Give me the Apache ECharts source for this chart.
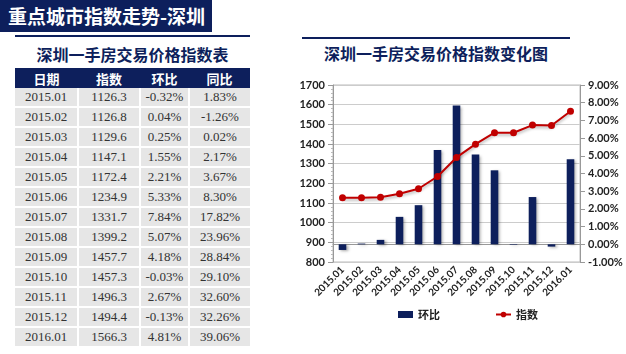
<!DOCTYPE html>
<html>
<head>
<meta charset="utf-8">
<script src="https://cdn.jsdelivr.net/npm/echarts@6/dist/echarts.min.js"></script>
<style>
  body { margin:0; width:626px; height:354px; background:#fff; position:relative; overflow:hidden;
         font-family:"Noto Sans CJK SC", sans-serif; }
  #banner { position:absolute; left:0; top:0; width:212px; height:32px; background:#0d1f5c; color:#fff;
            font-size:19px; font-weight:bold; line-height:32px; padding-left:8px; box-sizing:border-box; }
  .rule { position:absolute; height:2px; background:#0d1f5c; }
  .ttl { position:absolute; color:#0d1f5c; font-size:16px; font-weight:bold; text-align:center; }
  #tbl { position:absolute; left:15px; top:69px; width:235px; border-collapse:collapse; table-layout:fixed; }
  #tbl th { background:#0d1f5c; color:#fff; font-size:13px; height:18px; padding:0; font-weight:bold; }
  #tbl td { background:#e6e6e6; color:#333; height:18px; padding:0; text-align:center;
            font-family:"Liberation Serif", serif; font-size:13px; border:2px solid #fff; border-top:none; border-bottom-width:2px; }
  #tbl td:first-child, #tbl th:first-child { border-left:none; }
  #tbl td:last-child { border-right:none; }
  #chart { position:absolute; left:260px; top:70px; width:366px; height:284px; }
</style>
</head>
<body>
<div id="banner">重点城市指数走势-深圳</div>
<div class="rule" style="left:15px;top:35px;width:235px;"></div>
<div class="ttl" style="left:15px;top:42px;width:235px;">深圳一手房交易价格指数表</div>
<div class="rule" style="left:15px;top:68px;width:235px;"></div>
<div class="rule" style="left:302px;top:37px;width:268px;"></div>
<div class="ttl" style="left:302px;top:41px;width:268px;">深圳一手房交易价格指数变化图</div>
<table id="tbl">
  <colgroup><col style="width:63px"><col style="width:62px"><col style="width:49px"><col style="width:61px"></colgroup>
  <thead><tr><th>日期</th><th>指数</th><th>环比</th><th>同比</th></tr></thead>
  <tbody id="tbody"></tbody>
</table>
<div id="chart"></div>
<script>
var months = ['2015.01','2015.02','2015.03','2015.04','2015.05','2015.06','2015.07','2015.08','2015.09','2015.10','2015.11','2015.12','2016.01'];
var indexValues = [1126.3,1126.8,1129.6,1147.1,1172.4,1234.9,1331.7,1399.2,1457.7,1457.3,1496.3,1494.4,1566.3];
var momValues = [-0.32,0.04,0.25,1.55,2.21,5.33,7.84,5.07,4.18,-0.03,2.67,-0.13,4.81];
var yoyValues = [1.83,-1.26,0.02,2.17,3.67,8.30,17.82,23.96,28.84,29.10,32.60,32.26,39.06];

// table rows
var html = '';
for (var i = 0; i < months.length; i++) {
    html += '<tr><td>' + months[i] + '</td><td>' + indexValues[i].toFixed(1) + '</td><td>' +
        momValues[i].toFixed(2) + '%</td><td>' + yoyValues[i].toFixed(2) + '%</td></tr>';
}
document.getElementById('tbody').innerHTML = html;

var myChart = echarts.init(document.getElementById('chart'));
var axisFont = { fontFamily: 'Lato', fontWeight: 'bold', color: '#222', fontSize: 11 };
option = {
    animation: false,
    grid: { left: 73, right: 46, top: 15, bottom: 92, show: true, borderColor: '#bbb', borderWidth: 1 },
    legend: {
        left: 133, top: 234, itemWidth: 15, itemHeight: 7, itemGap: 55,
        textStyle: { fontFamily: 'Noto Sans CJK SC', fontWeight: 'bold', fontSize: 11, color: '#222' },
        data: [{ name: '环比', icon: 'rect' }, { name: '指数' }]
    },
    xAxis: {
        type: 'category',
        data: months,
        axisLine: { lineStyle: { color: '#999' } },
        axisTick: { alignWithLabel: false, lineStyle: { color: '#999' } },
        axisLabel: { rotate: 45, interval: 0, fontFamily: 'Lato', fontWeight: 'bold', fontSize: 10, color: '#222', margin: 6 }
    },
    yAxis: [
        {
            type: 'value', min: 800, max: 1700, interval: 100,
            axisLine: { show: true, lineStyle: { color: '#999' } },
            axisTick: { show: true, lineStyle: { color: '#999' } },
            minorTick: { show: true, splitNumber: 5, length: 2, lineStyle: { color: '#bbb' } },
            splitLine: { lineStyle: { color: '#ccc' } },
            axisLabel: Object.assign({ formatter: function (v) { return String(v); } }, axisFont)
        },
        {
            type: 'value', min: -1, max: 9, interval: 1,
            axisLine: { show: true, lineStyle: { color: '#999' } },
            axisTick: { show: true, lineStyle: { color: '#999' } },
            splitLine: { show: false },
            axisLabel: Object.assign({ formatter: function (v) { return v.toFixed(2) + '%'; }, margin: 8 }, axisFont)
        }
    ],
    series: [
        {
            name: '环比',
            type: 'bar',
            yAxisIndex: 1,
            barWidth: '40%',
            data: momValues,
            itemStyle: { color: '#0d1f5c', shadowBlur: 3, shadowColor: 'rgba(0,0,0,0.35)', shadowOffsetX: 2, shadowOffsetY: 1 }
        },
        {
            name: '指数',
            type: 'line',
            yAxisIndex: 0,
            data: indexValues,
            symbol: 'circle',
            symbolSize: 7,
            lineStyle: { color: '#c00000', width: 2, shadowBlur: 3, shadowColor: 'rgba(0,0,0,0.3)', shadowOffsetY: 2 },
            itemStyle: { color: '#c00000' }
        }
    ]
};
myChart.setOption(option);
</script>
</body>
</html>
